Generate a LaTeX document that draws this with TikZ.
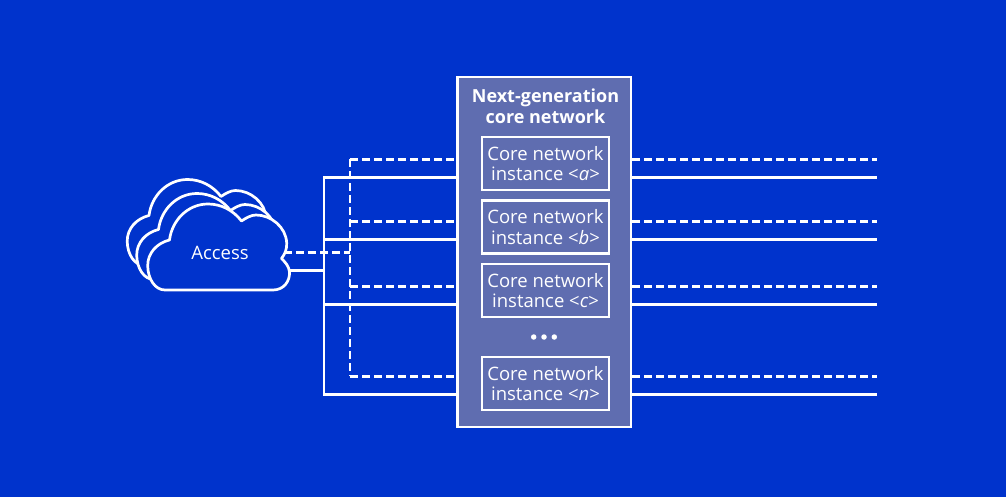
\documentclass[tikz,border=0pt]{standalone}
\usepackage{fontspec}
\setmainfont{Open Sans}
\definecolor{bgblue}{RGB}{0,51,204}
\definecolor{boxblue}{RGB}{95,109,176}
\tikzset{
  wire/.style={draw=white,line width=2.5pt},
  dashwire/.style={draw=white,line width=2.5pt,dash pattern=on 8pt off 4pt},
  instbox/.style={draw=white,fill=boxblue,line width=2.6pt,minimum width=127pt,minimum height=53pt,inner sep=0pt,text=white,font=\fontsize{18.5}{20.5}\selectfont,align=center},
  corebox/.style={draw=white,fill=boxblue,line width=2.6pt,minimum width=173.5pt,minimum height=350pt,inner sep=0pt},
  cloudline/.style={draw=white,fill=bgblue,line width=2.7pt,line join=round},
  dotmark/.style={fill=white,circle,inner sep=0pt,minimum size=5.5pt}
}
\newcommand{\cloudshape}{
  (165,290) -- (273,290)
  .. controls (284,290) and (290,281) .. (289.5,272)
  .. controls (289,266) and (285,262) .. (281.5,258.5)
  .. controls (285,254) and (287,249) .. (286.7,243)
  .. controls (286,227) and (271,215) .. (256,215)
  .. controls (251,215) and (246,218) .. (241.5,221)
  .. controls (233,210) and (221,204) .. (208,204)
  .. controls (188,204) and (172,220) .. (169.5,240)
  .. controls (157,243) and (147.5,253) .. (147.7,266)
  .. controls (148,279) and (155,290) .. (165,290) -- cycle
}
\begin{document}
\begin{tikzpicture}[x=1pt,y=-1pt]
\useasboundingbox[fill=bgblue] (0,0) rectangle (1006,497);
\foreach \n/\y in {a/177.3,b/239.3,c/304.3,n/394.3}{
  \coordinate (solL\n) at (324,\y);
  \coordinate (solR\n) at (877,\y);
}
\foreach \n/\y in {a/159.3,b/221.3,c/286.3,n/376.3}{
  \coordinate (dasL\n) at (350,\y);
  \coordinate (dasR\n) at (877,\y);
}
\coordinate (accS) at (288,270.3);
\coordinate (accD) at (284,252.3);
\coordinate (busS) at (324,270.3);
\coordinate (busD) at (350,252.3);
\draw[wire,line cap=rect] (solLa) -- (solLn);
\draw[dashwire] (dasLa) -- (dasLn);
\draw[wire] (accS) -- (busS);
\draw[dashwire] (accD) -- (busD);
\node[corebox] (core) at (544.25,252) {};
\foreach \n in {a,b,c,n}{
  \draw[wire] (solL\n) -- (core.west |- solL\n);
  \draw[wire] (core.east |- solR\n) -- (solR\n);
  \draw[dashwire] (dasL\n) -- (core.west |- dasL\n);
  \draw[dashwire] (core.east |- dasR\n) -- (dasR\n);
}
\begin{scope}[shift={(-20.5,-24.5)}]
  \path[cloudline] \cloudshape;
\end{scope}
\begin{scope}[shift={(-11,-10.5)}]
  \path[cloudline] \cloudshape;
\end{scope}
\path[cloudline] \cloudshape;
\node[text=white,font=\fontsize{18.5}{20}\selectfont,inner sep=0pt] (access) at (220,252.5) {Access};
\node[text=white,font=\fontsize{18}{21}\selectfont\bfseries,align=center,inner sep=0pt] (title) at (545.5,106.5) {Next-generation\\core network};
\node[instbox] (ia) at (545.5,163.5) {Core network\\instance <\textit{a}>};
\node[instbox] (ib) at (545.5,227) {Core network\\instance <\textit{b}>};
\node[instbox] (ic) at (545.5,290.5) {Core network\\instance <\textit{c}>};
\node[instbox] (in) at (545.5,383.5) {Core network\\instance <\textit{n}>};
\node[dotmark] (d1) at (533.7,337) {};
\node[dotmark] (d2) at (544,337) {};
\node[dotmark] (d3) at (554.3,337) {};
\end{tikzpicture}
\end{document}
